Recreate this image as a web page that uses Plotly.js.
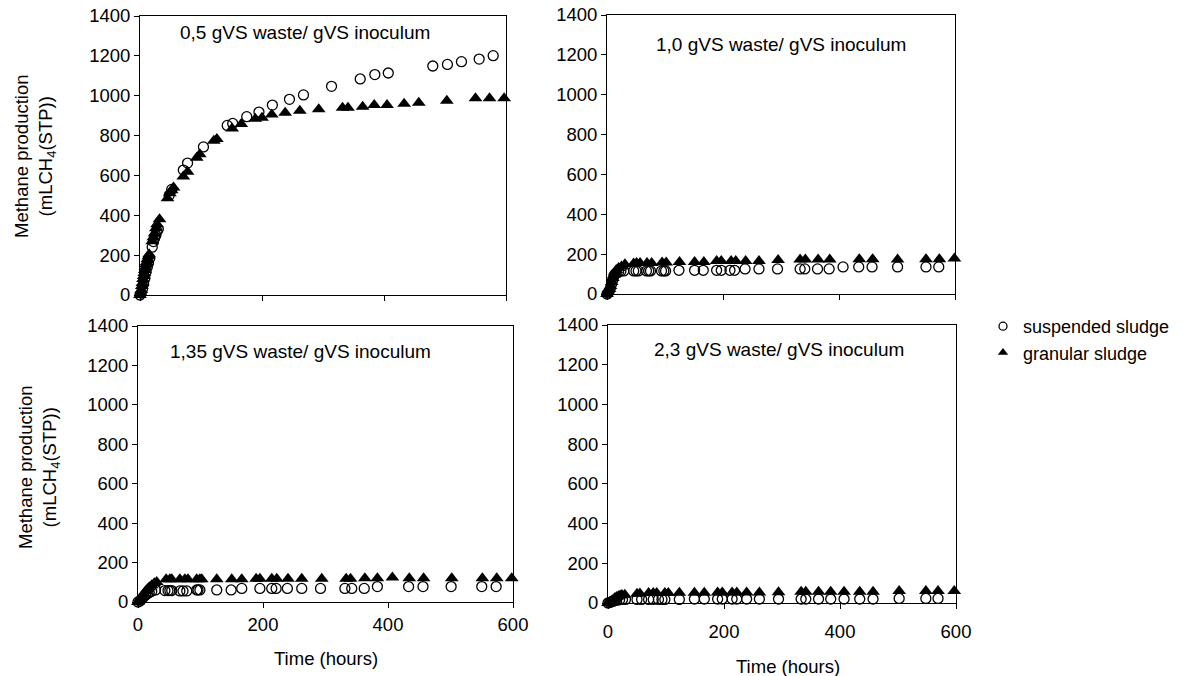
<!DOCTYPE html>
<html>
<head>
<meta charset="utf-8">
<script src="https://cdn.plot.ly/plotly-3.0.1.min.js"></script>
<style>html,body{margin:0;padding:0;background:#fff;}#chart{width:1184px;height:676px;}</style>
</head>
<body>
<div id="chart"></div>
<script>
// ---- Data (time in hours, methane in mL CH4 STP) ----
var panelTitles = ["0,5 gVS waste/ gVS inoculum", "1,0 gVS waste/ gVS inoculum", "1,35 gVS waste/ gVS inoculum", "2,3 gVS waste/ gVS inoculum"];
var seriesNames = ["suspended sludge", "granular sludge"];
var xTickVals = [0, 200, 400, 600];
var yTickVals = [0, 200, 400, 600, 800, 1000, 1200, 1400];

// Panel 1: 0,5 gVS waste/gVS inoculum
var p1SuspT = [0,2,4,6,8,10,12,14,16,20,22,24,26,28,30,48,52,71,78,104,143,152,175,195,217,245,268,314,361,385,407,480,504,527,556,579];
var p1SuspV = [0,10,30,55,85,115,140,160,185,240,268,285,300,320,330,500,530,627,662,743,851,861,895,918,953,982,1004,1047,1084,1106,1114,1149,1157,1171,1184,1201];
var p1GranT = [0,1,2,3,4,5,6,7,8,9,10,11,12,14,15,20,22,24,26,28,32,45,49,52,55,71,78,93,98,121,126,151,166,189,200,216,238,262,293,332,341,365,384,405,433,457,503,550,573,597];
var p1GranV = [0,10,25,45,60,80,95,110,125,140,155,165,180,195,205,270,290,310,335,355,380,485,510,525,540,594,619,689,706,774,783,835,858,885,890,906,915,925,932,940,940,945,953,953,960,965,975,987,987,987];

// Panel 2: 1,0 gVS waste/gVS inoculum
var p2SuspT = [0,2,4,6,8,10,12,14,16,20,24,29,46,50,54,68,72,75,94,98,101,124,151,166,189,197,212,220,238,262,294,333,341,363,383,407,434,457,501,550,572];
var p2SuspV = [0,5,15,30,50,70,90,100,105,110,115,116,116,116,116,116,116,116,116,116,116,119,119,119,119,119,119,119,126,126,126,126,126,126,126,136,136,136,136,136,136];
var p2GranT = [0,2,4,6,8,10,12,14,16,20,25,31,46,51,57,69,77,95,102,125,151,167,189,197,214,222,239,262,295,333,342,364,384,435,458,501,550,573,599];
var p2GranV = [0,10,25,40,60,80,95,110,120,130,138,149,153,155,155,155,155,158,158,161,161,161,166,166,166,166,166,166,170,173,173,173,173,175,175,173,175,175,178];

// Panel 3: 1,35 gVS waste/gVS inoculum
var p3SuspT = [0,3,6,9,12,15,18,22,28,43,48,51,54,67,72,78,94,96,99,126,149,166,195,214,221,239,262,292,331,342,362,383,433,456,501,550,573];
var p3SuspV = [0,5,15,25,35,42,48,54,61,58,58,58,58,56,56,56,61,61,61,61,61,69,69,69,69,69,69,69,69,69,69,78,78,78,78,78,78];
var p3GranT = [0,3,6,9,12,15,18,22,26,30,45,51,54,67,75,80,94,99,102,126,150,166,189,195,214,222,240,262,294,333,340,363,383,407,434,457,502,551,574,598];
var p3GranV = [0,10,25,40,55,65,75,85,95,102,115,115,115,115,115,115,115,115,115,115,115,115,118,118,118,118,118,118,118,118,118,121,121,124,121,121,121,121,121,121];

// Panel 4: 2,3 gVS waste/gVS inoculum
var p4SuspT = [0,3,6,9,12,15,20,25,30,50,58,70,78,87,93,98,123,149,166,189,197,214,222,239,261,294,333,341,363,384,407,434,457,502,548,569];
var p4SuspV = [0,3,6,9,12,14,16,18,18,18,18,18,18,18,18,18,18,20,20,20,20,20,20,20,20,20,20,20,20,20,20,20,20,23,23,23];
var p4GranT = [0,3,6,9,12,15,18,21,24,29,50,55,70,78,84,98,104,123,149,166,189,197,214,222,239,261,294,333,341,363,384,407,434,457,502,548,569,597];
var p4GranV = [0,5,10,18,25,30,34,38,40,42,47,48,50,50,50,50,50,52,52,52,53,53,53,53,53,53,54,57,57,57,57,57,57,57,60,60,60,60];

var panels = [
  {st: p1SuspT, sv: p1SuspV, gt: p1GranT, gv: p1GranV},
  {st: p2SuspT, sv: p2SuspV, gt: p2GranT, gv: p2GranV},
  {st: p3SuspT, sv: p3SuspV, gt: p3GranT, gv: p3GranV},
  {st: p4SuspT, sv: p4SuspV, gt: p4GranT, gv: p4GranV}
];

// ---- Layout geometry ----
var W = 1184, H = 676;
function px(x) { return x / W; }
function py(y) { return 1 - y / H; }
var boxes = [
  {x0: 140, x1: 506, y0: 16, y1: 295},
  {x0: 607, x1: 955, y0: 15, y1: 294},
  {x0: 138, x1: 513, y0: 326, y1: 602},
  {x0: 608, x1: 956, y0: 325, y1: 603}
];
var FONT = "Liberation Sans, Arial, sans-serif";
var TICKSIZE = 18.5, TITLESIZE = 19, LEGSIZE = 18, AXSIZE = 18.5;

var circleMarker = {symbol: 'circle-open', size: 10, color: '#000', line: {color: '#000', width: 1.3}};
var triMarker = {symbol: 'triangle-up', size: 12, color: '#000', line: {width: 0}};

var data = [];
var layout = {
  width: W, height: H,
  margin: {l: 0, r: 0, t: 0, b: 0},
  paper_bgcolor: '#fff', plot_bgcolor: '#fff',
  font: {family: FONT, size: TICKSIZE, color: '#000'},
  showlegend: true,
  legend: {x: px(983), y: py(308), xanchor: 'left', yanchor: 'top', bgcolor: 'rgba(0,0,0,0)',
           font: {family: FONT, size: LEGSIZE, color: '#000'}, itemwidth: 30, tracegroupgap: 0},
  annotations: []
};

panels.forEach(function (p, i) {
  var k = i + 1;
  var xa = k === 1 ? 'x' : 'x' + k;
  var ya = k === 1 ? 'y' : 'y' + k;
  data.push({x: p.st, y: p.sv, xaxis: xa, yaxis: ya, type: 'scatter', mode: 'markers',
             marker: circleMarker, showlegend: false, cliponaxis: false, hoverinfo: 'x+y'});
  data.push({x: p.gt, y: p.gv, xaxis: xa, yaxis: ya, type: 'scatter', mode: 'markers',
             marker: triMarker, showlegend: false, cliponaxis: false, hoverinfo: 'x+y'});
  var b = boxes[i];
  var bottomRow = i >= 2;
  layout['xaxis' + (k === 1 ? '' : k)] = {
    domain: [px(b.x0), px(b.x1)], anchor: ya, range: [0, 600],
    tickvals: xTickVals, showticklabels: bottomRow, ticks: 'outside', ticklen: 5,
    tickcolor: '#000', tickwidth: 1, showline: true, linecolor: '#000', linewidth: 1,
    mirror: true, showgrid: false, zeroline: false, fixedrange: true,
    ticklabelstandoff: (i === 3 ? 7 : 1),
    tickfont: {family: FONT, size: TICKSIZE, color: '#000'}
  };
  layout['yaxis' + (k === 1 ? '' : k)] = {
    domain: [py(b.y1), py(b.y0)], anchor: xa, range: [0, 1400],
    tickvals: yTickVals, ticks: 'outside', ticklen: 5,
    tickcolor: '#000', tickwidth: 1, showline: true, linecolor: '#000', linewidth: 1,
    mirror: true, showgrid: false, zeroline: false, fixedrange: true,
    tickfont: {family: FONT, size: TICKSIZE, color: '#000'}
  };
});

// legend-only entries with smaller symbols
data.push({x: [null], y: [null], type: 'scatter', mode: 'markers', name: seriesNames[0],
           marker: {symbol: 'circle-open', size: 8, color: '#000', line: {color: '#000', width: 1.3}}, xaxis: 'x4', yaxis: 'y4'});
data.push({x: [null], y: [null], type: 'scatter', mode: 'markers', name: seriesNames[1],
           marker: {symbol: 'triangle-up', size: 9, color: '#000'}, xaxis: 'x4', yaxis: 'y4'});

// panel titles
var titlePos = [[305, 32], [781, 45], [300, 351], [779, 349]];
panelTitles.forEach(function (t, i) {
  layout.annotations.push({text: t, xref: 'paper', yref: 'paper', x: px(titlePos[i][0]), y: py(titlePos[i][1]),
    xanchor: 'center', yanchor: 'middle', showarrow: false, font: {family: FONT, size: TITLESIZE, color: '#000'}});
});
// axis titles
var yTitle = 'Methane production<br>(mLCH<sub>4</sub>(STP))';
[[35, 156], [39, 467]].forEach(function (p) {
  layout.annotations.push({text: yTitle, xref: 'paper', yref: 'paper', x: px(p[0]), y: py(p[1]),
    xanchor: 'center', yanchor: 'middle', textangle: -90, showarrow: false,
    font: {family: FONT, size: AXSIZE, color: '#000'}});
});
[[326, 658], [788, 666]].forEach(function (p) {
  layout.annotations.push({text: 'Time (hours)', xref: 'paper', yref: 'paper', x: px(p[0]), y: py(p[1]),
    xanchor: 'center', yanchor: 'middle', showarrow: false, font: {family: FONT, size: AXSIZE, color: '#000'}});
});

Plotly.newPlot('chart', data, layout, {displayModeBar: false, staticPlot: true});
</script>
</body>
</html>
